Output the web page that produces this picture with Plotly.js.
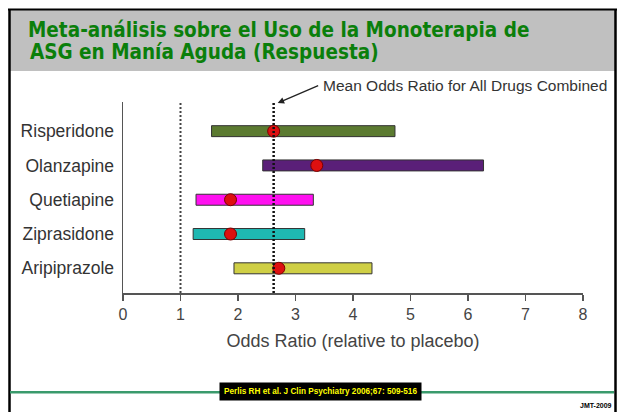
<!DOCTYPE html>
<html>
<head>
<meta charset="utf-8">
<script src="https://cdn.plot.ly/plotly-3.0.1.min.js"></script>
<style>html,body{margin:0;padding:0;background:#fff;}#chart{width:619px;height:412px;}</style>
</head>
<body>
<div id="chart"></div>
<script>
// ---- data ----
const drugs = ["Risperidone", "Olanzapine", "Quetiapine", "Ziprasidone", "Aripiprazole"];
const ciLow = [1.54, 2.43, 1.27, 1.22, 1.93];
const ciHigh = [4.73, 6.27, 3.31, 3.16, 4.33];
const oddsRatio = [2.62, 3.37, 1.87, 1.87, 2.71];
const barColors = ["#5b7a30", "#5a1f78", "#ff10f0", "#1fb8b2", "#cfcf45"];
const meanOR = 2.62;
const nullOR = 1;
const xTicks = [0, 1, 2, 3, 4, 5, 6, 7, 8];

// ---- geometry helpers (pixel -> paper) ----
const W = 619, H = 412;
const M = {l: 123, r: 36, t: 102, b: 119};
const PW = W - M.l - M.r, PH = H - M.t - M.b;
const px = x => (x - M.l) / PW;
const py = y => (H - M.b - y) / PH;

const font = "Liberation Sans, Arial, Helvetica, sans-serif";
const titleFont = "DejaVu Sans Condensed, DejaVu Sans, sans-serif";

const bars = {
  type: "bar", orientation: "h",
  y: drugs,
  base: ciLow,
  x: ciHigh.map((h, i) => h - ciLow[i]),
  width: 0.32,
  marker: {color: barColors, line: {color: "#333", width: 1}},
  hoverinfo: "skip", showlegend: false
};
const pts = {
  type: "scatter", mode: "markers",
  x: oddsRatio, y: drugs,
  marker: {size: 12, color: "#dd1010", line: {color: "#7a0000", width: 1}},
  hoverinfo: "skip", showlegend: false
};

const shapes = [
  {type: "rect", xref: "paper", yref: "paper", x0: px(10), x1: px(615), y0: py(71), y1: py(10),
   fillcolor: "#c0c0c0", line: {width: 0}, layer: "below"},
  {type: "line", xref: "paper", yref: "paper", x0: px(8), x1: px(617), y0: py(9.5), y1: py(9.5), line: {color: "#000", width: 2}},
  {type: "line", xref: "paper", yref: "paper", x0: px(9.5), x1: px(9.5), y0: py(9), y1: py(415), line: {color: "#000", width: 2.5}},
  {type: "line", xref: "paper", yref: "paper", x0: px(615.5), x1: px(615.5), y0: py(9), y1: py(415), line: {color: "#000", width: 2.5}},
  {type: "line", xref: "paper", yref: "paper", x0: px(10), x1: px(614), y0: py(392.3), y1: py(392.3), line: {color: "#3a9a6c", width: 2.5}},
  {type: "line", xref: "x", yref: "paper", x0: nullOR, x1: nullOR, y0: 0, y1: 1, line: {color: "#444", width: 2, dash: "2px,2px"}},
  {type: "line", xref: "x", yref: "paper", x0: meanOR, x1: meanOR, y0: 0, y1: 1, line: {color: "#111", width: 2.5, dash: "2px,2px"}}
];

const annotations = [
  {xref: "paper", yref: "paper", x: px(28), y: py(52), xanchor: "left", yanchor: "middle", showarrow: false,
   text: "ASG en Manía Aguda (Respuesta)", font: {family: titleFont, size: 20.5, color: "#0b7f0b", weight: "bold"}},
  {xref: "x", yref: "paper", x: 2.69, y: py(103), ax: 42, ay: -18, axref: "pixel", ayref: "pixel",
   text: "", showarrow: true, arrowhead: 2, arrowsize: 1, arrowwidth: 1.3, arrowcolor: "#222"},
  {xref: "paper", yref: "paper", x: px(321), y: py(85), xanchor: "left", yanchor: "middle", showarrow: false,
   text: "Mean Odds Ratio for All Drugs Combined", font: {family: font, size: 15.5, color: "#333"}},
  {xref: "paper", yref: "paper", x: px(320), y: py(391.5), xanchor: "center", yanchor: "middle", showarrow: false,
   text: "<b>Perlis RH et al. J Clin Psychiatry 2006;67: 509-516</b>", bgcolor: "#000", borderpad: 4,
   font: {family: "Liberation Sans Narrow, Arial Narrow, Liberation Sans, sans-serif", size: 8.2, color: "#ffff00"}},
  {xref: "paper", yref: "paper", x: px(614), y: py(405), xanchor: "right", yanchor: "middle", showarrow: false,
   text: "<b>JMT-2009</b>", font: {family: "Liberation Sans Narrow, Arial Narrow, sans-serif", size: 7, color: "#000"}}
];

const layout = {
  width: W, height: H,
  margin: M,
  paper_bgcolor: "#fff", plot_bgcolor: "#fff",
  title: {text: "Meta-análisis sobre el Uso de la Monoterapia de", xref: "container", yref: "container",
          x: 28 / W, xanchor: "left", y: 1 - 30 / H, yanchor: "middle",
          font: {family: titleFont, size: 20.5, color: "#0b7f0b", weight: "bold"}},
  xaxis: {range: [0, 8], tickvals: xTicks, ticktext: xTicks.map(String), showline: true, linecolor: "#555", linewidth: 1.5,
          ticks: "outside", ticklen: 6, tickwidth: 1.5, tickcolor: "#555", showgrid: false, zeroline: false,
          tickfont: {family: font, size: 16, color: "#444"},
          title: {text: "Odds Ratio (relative to placebo)", font: {family: font, size: 18, color: "#444"}, standoff: 12}},
  yaxis: {type: "category", categoryorder: "array", categoryarray: drugs.slice().reverse(), range: [-0.72, 4.85],
          showline: true, linecolor: "#555", linewidth: 1.5, ticks: "", showgrid: false, zeroline: false,
          tickfont: {family: font, size: 17.5, color: "#333"}, ticklabelstandoff: 4},
  shapes: shapes,
  annotations: annotations,
  bargap: 0
};

Plotly.newPlot("chart", [bars, pts], layout, {displayModeBar: false, staticPlot: true});
</script>
</body>
</html>
